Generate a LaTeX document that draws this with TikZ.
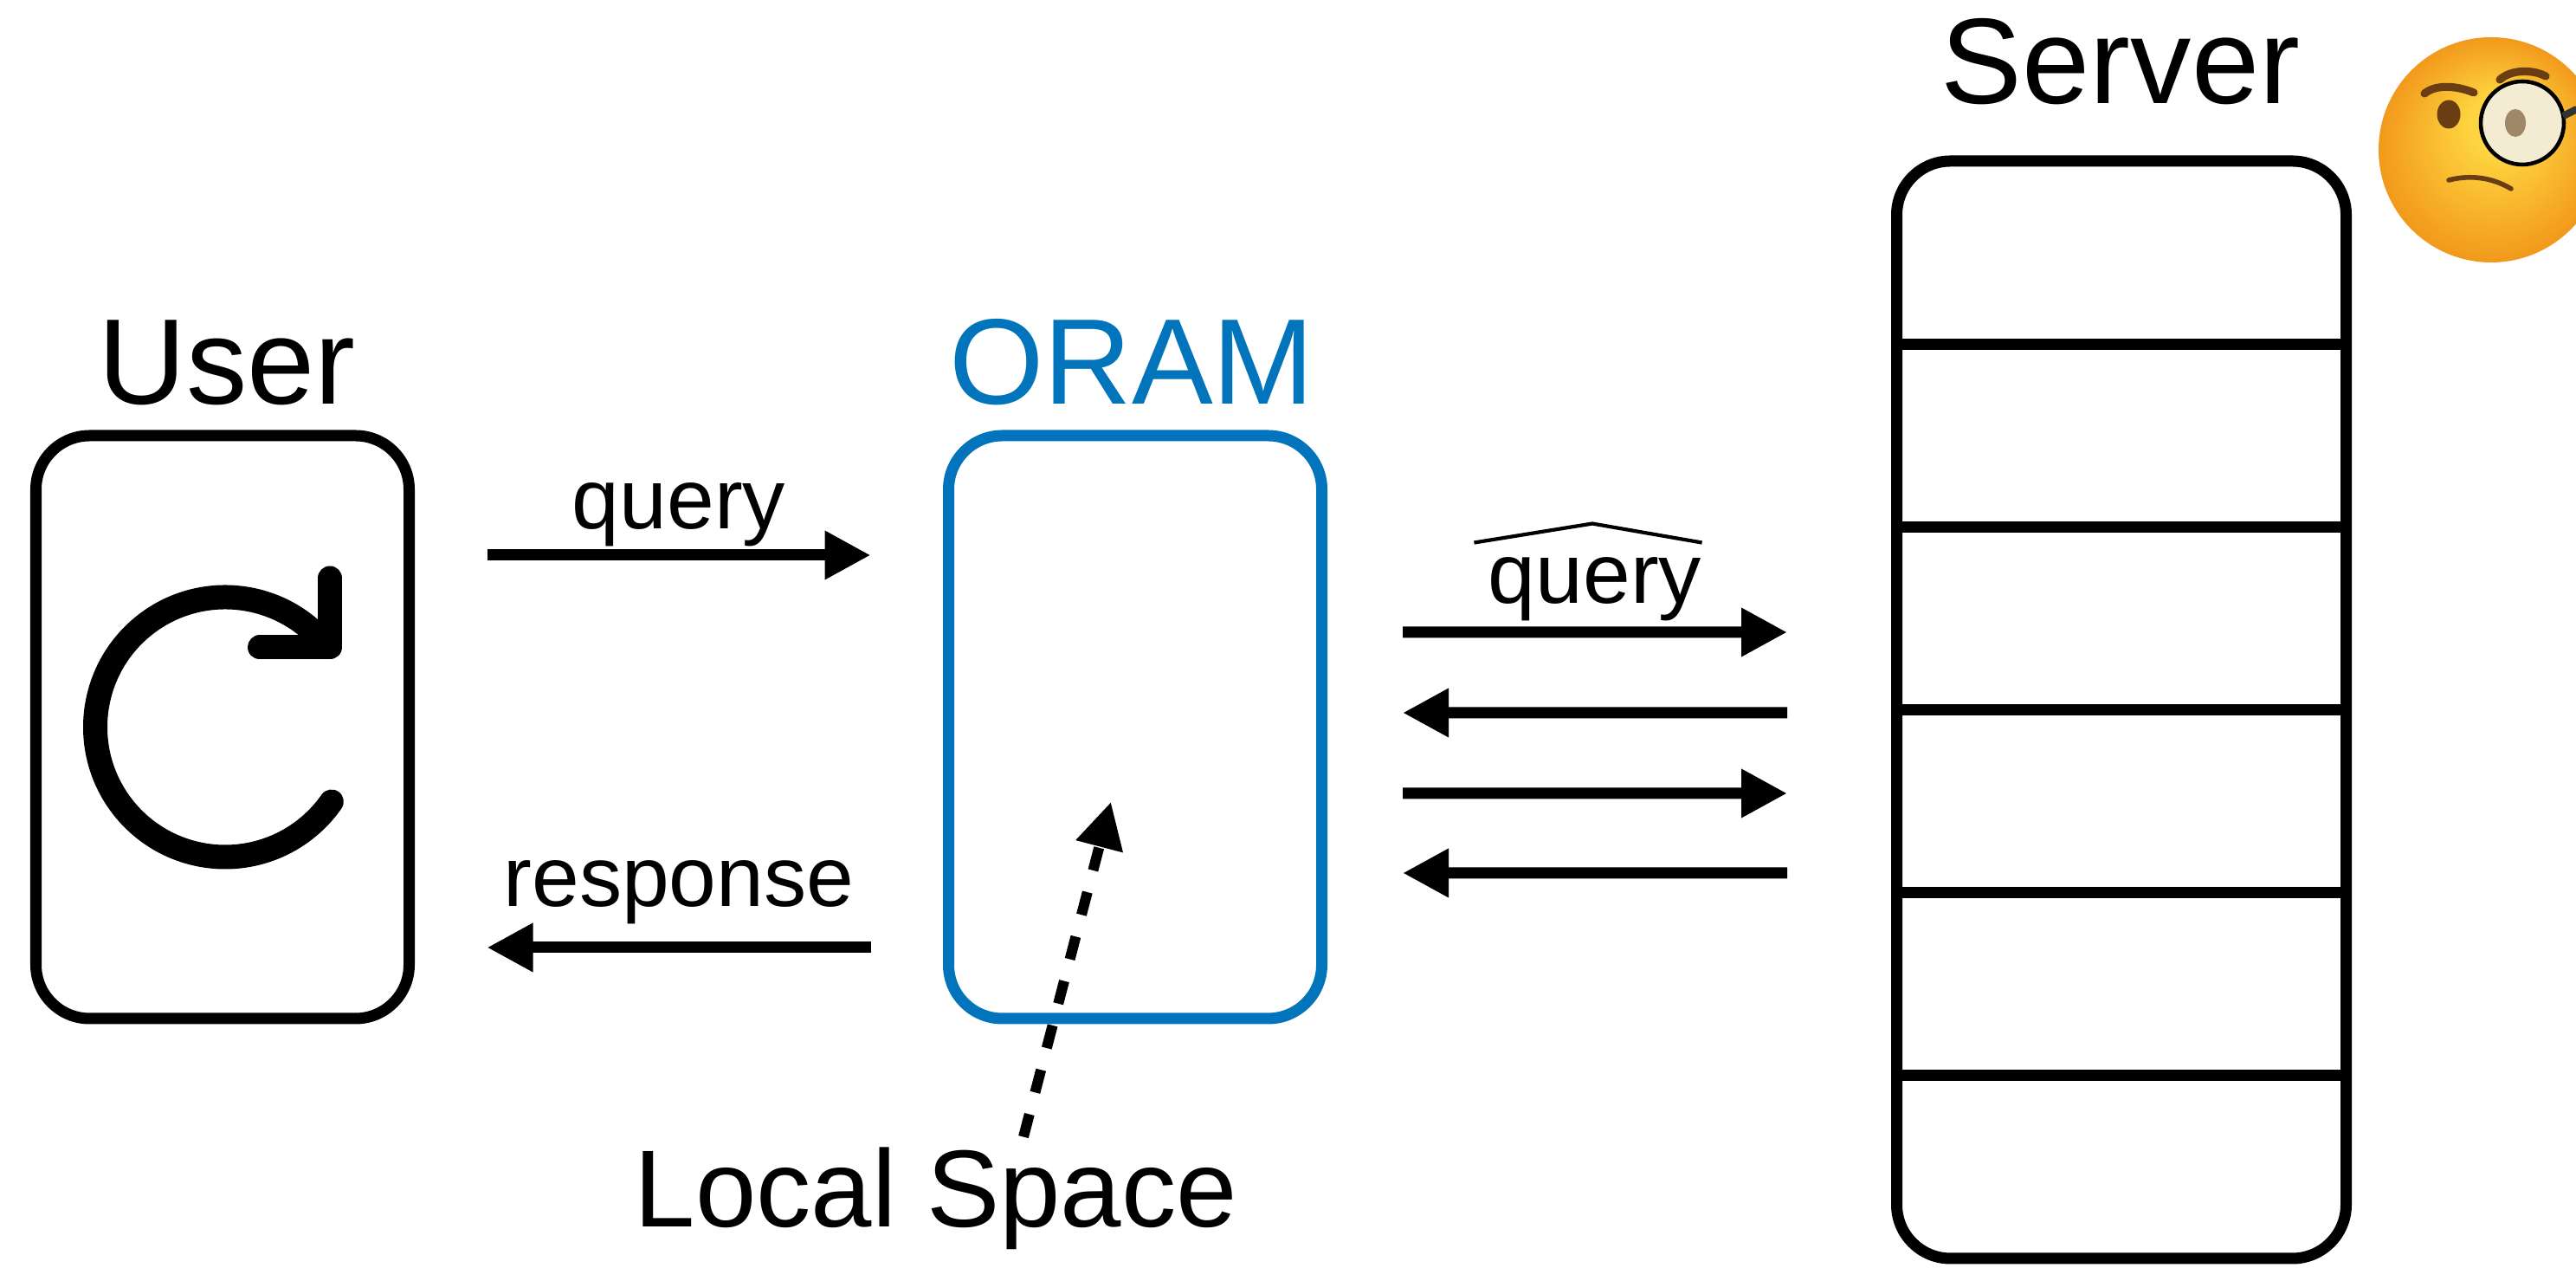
\documentclass[tikz,border=0pt]{standalone}
\usepackage{fontspec}
\setmainfont{Liberation Sans}
\usepackage{tikz}
\usetikzlibrary{arrows.meta, positioning, calc}
\definecolor{oramblue}{HTML}{0174BB}
\definecolor{faceyellow}{HTML}{FFD842}
\definecolor{faceorange}{HTML}{F29A1C}
\definecolor{facebrown}{HTML}{6A3E12}
\definecolor{lensfill}{HTML}{F3ECD2}
\definecolor{lenseye}{HTML}{A08767}

\begin{document}
\begin{tikzpicture}[
  party/.style={rectangle, rounded corners=0.62cm, draw=black, line width=3.7pt, outer sep=0pt,
    minimum width=4.31cm, minimum height=6.73cm},
  heading/.style={font=\fontsize{40}{48}\selectfont, inner sep=0pt, anchor=base},
  tag/.style={font=\fontsize{28}{34}\selectfont, inner sep=0pt, anchor=base},
  msg/.style={line width=3.7pt, -{Triangle[length=5.3mm, width=5.3mm]}},
  msgback/.style={line width=3.7pt, {Triangle[length=5.3mm, width=5.3mm]}-},
  peek/.style={line width=0.12cm, dash pattern=on 0.27cm off 0.26cm, -{Triangle[length=5.3mm, width=5.3mm]}},
  spin/.style={line width=0.28cm, line cap=round, line join=round},
  hatline/.style={line width=1.2pt, line join=miter}
]
  \useasboundingbox (0,0) rectangle (29.75,14.64);

  \node[party] (user) at (2.57, 6.245) {};
  \node[party, draw=oramblue] (oram) at (13.11, 6.245) {};
  \node[party, minimum width=5.19cm, minimum height=12.67cm] (server) at (24.50, 6.445) {};

  \node[heading] (userlbl) at (2.62, 9.97) {User};
  \node[heading, text=oramblue] (oramlbl) at (13.07, 9.97) {ORAM};
  \node[heading] (serverlbl) at (24.49, 13.44) {Server};
  \node[heading, font=\fontsize{36}{43}\selectfont] (local) at (10.81, 0.47) {Local Space};

  % server memory slots
  \foreach \i in {1,...,5}
    \draw[line width=3.7pt] ($(server.north west)!\i/6!(server.south west)$) -- ($(server.north east)!\i/6!(server.south east)$);

  % rotate symbol inside the user box
  \draw[spin] ([xshift=0.03cm]user.center) ++(40:1.5) arc[start angle=40, end angle=325, radius=1.5];
  \draw[spin] ([xshift=0.03cm]user.center) ++(0.40,0.92) -- ++(0.81,0) -- ++(0,0.80);

  \draw[msg] ([xshift=0.9cm, yshift=1.985cm]user.east) -- node[tag, yshift=0.3cm] (qlbl) {query} ([xshift=-0.9cm, yshift=1.985cm]oram.west);
  \draw[msg] ([xshift=-0.9cm, yshift=-2.545cm]oram.west) -- node[tag, yshift=0.47cm] (rlbl) {response} ([xshift=0.9cm, yshift=-2.545cm]user.east);

  \draw[msg] ([xshift=0.935cm, yshift=1.095cm]oram.east) -- node[tag, yshift=0.33cm] (qhat) {query} ([xshift=-1.265cm, yshift=0.895cm]server.west);
  \draw[hatline] ([xshift=-0.1cm, yshift=0.11cm]qhat.north west) -- ([xshift=-0.03cm, yshift=0.33cm]qhat.north) -- ([xshift=-0.06cm, yshift=0.11cm]qhat.north east);
  \foreach \dy/\way in {0.165/msgback, -0.765/msg, -1.685/msgback}
    \draw[\way] ([xshift=0.935cm, yshift=\dy cm]oram.east) -- ([xshift=-1.265cm, yshift={(\dy-0.2)*1cm}]server.west);

  \draw[peek] ([xshift=1.01cm, yshift=0.12cm]local.north) -- ([xshift=-0.28cm, yshift=2.50cm]oram.south);

  % monocle face
  \begin{scope}
    \clip (0,0) rectangle (29.75,14.64);
    \foreach \k [evaluate=\k as \mix using int(\k*4)] in {0,...,24}
      \fill[faceyellow!\mix!faceorange] ({28.77+0.004*\k},{12.91+0.012*\k}) circle ({1.30-0.04*\k});
    \draw[facebrown, line width=2.6pt, line cap=round] (28.00,13.56) .. controls (28.15,13.68) and (28.40,13.64) .. (28.57,13.57);
    \fill[facebrown] (28.28,13.32) ellipse [x radius=0.135, y radius=0.165];
    \draw[facebrown, line width=2.6pt, line cap=round] (28.87,13.72) .. controls (29.00,13.84) and (29.25,13.84) .. (29.40,13.76);
    \filldraw[draw=black, line width=1.3pt, fill=lensfill] (29.13,13.22) circle (0.48);
    \fill[lenseye] (29.05,13.22) ellipse [x radius=0.12, y radius=0.16];
    \draw[black!80, line width=2.4pt] (29.60,13.30) -- (29.76,13.38);
    \draw[facebrown, line width=1.6pt, line cap=round] (28.28,12.56) .. controls (28.55,12.63) and (28.80,12.58) .. (29.00,12.46);
  \end{scope}
\end{tikzpicture}
\end{document}
